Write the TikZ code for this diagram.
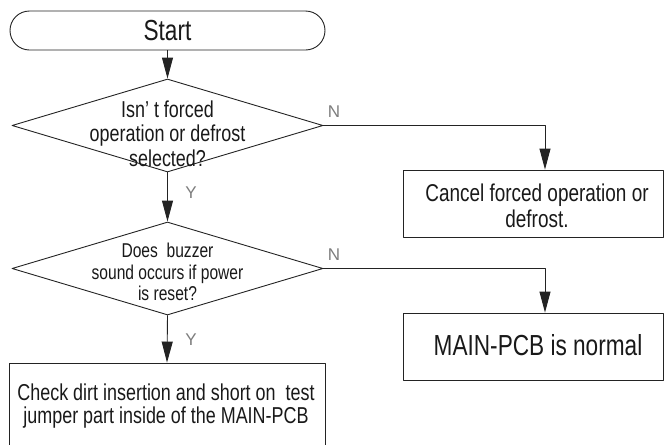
\documentclass[tikz,border=0pt]{standalone}
\usepackage{fontspec}
\setmainfont{Liberation Sans}[FakeStretch=0.78]
\newfontfamily\labelfont{Liberation Sans}
\usetikzlibrary{arrows.meta,shapes.geometric}
\definecolor{linegray}{RGB}{35,35,35}
\definecolor{labelgray}{RGB}{125,125,125}
\tikzset{
  every node/.style={font=\fontsize{23}{24.5}\selectfont, text=black!90},
  terminal/.style={draw=linegray, line width=0.9pt, rounded corners=19.5pt,
    minimum width=315pt, minimum height=39pt, inner sep=0pt},
  decision/.style={diamond, draw=linegray, line width=0.9pt,
    minimum width=311pt, minimum height=93pt, inner sep=0pt},
  process/.style={rectangle, draw=linegray, line width=0.9pt, inner sep=0pt},
  qtext/.style={align=center, inner sep=0pt},
  flow/.style={draw=linegray, line width=0.9pt,
    -{Triangle[length=21pt,width=11pt]}},
  branch/.style={font=\labelfont\fontsize{17}{17}\selectfont,
    text=labelgray, inner sep=0pt}
}

\begin{document}
\begin{tikzpicture}[x=1pt, y=-1pt, line cap=round, line join=round]
  \useasboundingbox (0,0) rectangle (665,445);
  \clip (0,0) rectangle (665,445);

  % shapes
  \node[terminal, font=\fontsize{29}{29}\selectfont] (start) at (167.5,30.5) {Start};
  \node[decision] (q1) at (167.5,125.5) {};
  \node[qtext] (q1t) at (167.5,133.5) {Isn’ t forced\\operation or defrost\\selected?};
  \node[decision] (q2) at (167.5,268.5) {};
  \node[qtext, font=\fontsize{20}{21.7}\selectfont] (q2t) at (167.5,272)
    {Does\ \ buzzer\\sound occurs if power\\is reset?};
  \node[process, minimum width=260pt, minimum height=67pt] (cancel) at (533,203.5) {};
  \node[qtext, font=\fontsize{24.3}{26}\selectfont] (cancelt) at (537,206)
    {Cancel forced operation or\\defrost.};
  \node[process, minimum width=260pt, minimum height=67pt] (normal) at (533,346.5) {};
  \node[qtext, font=\fontsize{29}{29}\selectfont] (normalt) at (538,345)
    {MAIN-PCB is normal};
  \node[process, minimum width=316pt, minimum height=86pt] (check) at (167,406) {};
  \node[qtext, font=\fontsize{23}{23}\selectfont] (checkt) at (166,406)
    {Check dirt insertion and short on\ \ test\\jumper part inside of the MAIN-PCB};

  % connectors
  \draw[flow] (start.south) -- (q1.north);
  \draw[flow] (q1.south) -- (q2.north);
  \draw[flow] (q1.east) -| ([xshift=12pt]cancel.north);
  \draw[flow] (q2.east) -| ([xshift=12pt]normal.north);
  \draw[flow] (q2.south) -- (check.north);

  % branch labels
  \node[branch] (y1) at (191,193) {Y};
  \node[branch] (n1) at (334,112) {N};
  \node[branch] (y2) at (191,340) {Y};
  \node[branch] (n2) at (334,255) {N};
\end{tikzpicture}
\end{document}
